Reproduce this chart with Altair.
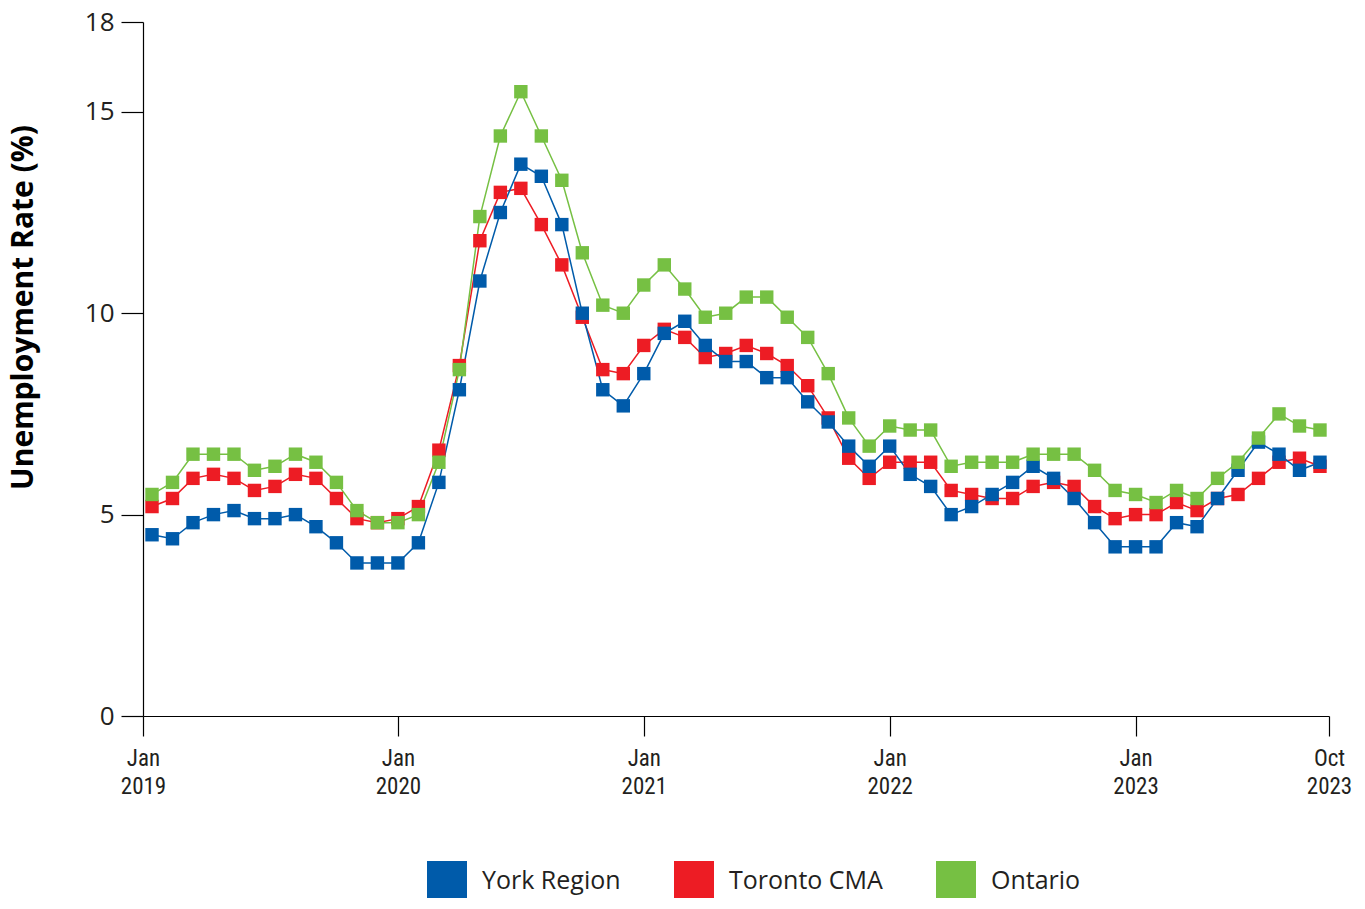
import altair as alt
import pandas as pd

# Months from Jan 2019 (index 0) to Oct 2023 (index 57)
month_index = list(range(58))

york = [4.5, 4.4, 4.8, 5.0, 5.1, 4.9, 4.9, 5.0, 4.7, 4.3,
        3.8, 3.8, 3.8, 4.3, 5.8, 8.1, 10.8, 12.5, 13.7, 13.4,
        12.2, 10.0, 8.1, 7.7, 8.5, 9.5, 9.8, 9.2, 8.8, 8.8,
        8.4, 8.4, 7.8, 7.3, 6.7, 6.2, 6.7, 6.0, 5.7, 5.0,
        5.2, 5.5, 5.8, 6.2, 5.9, 5.4, 4.8, 4.2, 4.2, 4.2,
        4.8, 4.7, 5.4, 6.1, 6.8, 6.5, 6.1, 6.3]

toronto = [5.2, 5.4, 5.9, 6.0, 5.9, 5.6, 5.7, 6.0, 5.9, 5.4,
           4.9, 4.8, 4.9, 5.2, 6.6, 8.7, 11.8, 13.0, 13.1, 12.2,
           11.2, 9.9, 8.6, 8.5, 9.2, 9.6, 9.4, 8.9, 9.0, 9.2,
           9.0, 8.7, 8.2, 7.4, 6.4, 5.9, 6.3, 6.3, 6.3, 5.6,
           5.5, 5.4, 5.4, 5.7, 5.8, 5.7, 5.2, 4.9, 5.0, 5.0,
           5.3, 5.1, 5.4, 5.5, 5.9, 6.3, 6.4, 6.2]

ontario = [5.5, 5.8, 6.5, 6.5, 6.5, 6.1, 6.2, 6.5, 6.3, 5.8,
           5.1, 4.8, 4.8, 5.0, 6.3, 8.6, 12.4, 14.4, 15.5, 14.4,
           13.3, 11.5, 10.2, 10.0, 10.7, 11.2, 10.6, 9.9, 10.0, 10.4,
           10.4, 9.9, 9.4, 8.5, 7.4, 6.7, 7.2, 7.1, 7.1, 6.2,
           6.3, 6.3, 6.3, 6.5, 6.5, 6.5, 6.1, 5.6, 5.5, 5.3,
           5.6, 5.4, 5.9, 6.3, 6.9, 7.5, 7.2, 7.1]

series_names = ["York Region", "Toronto CMA", "Ontario"]
series_colors = ["#005BAA", "#ED1C24", "#76C043"]

x_tick_values = [-0.44, 12, 24, 36, 48, 57.44]
x_tick_top = ["Jan", "Jan", "Jan", "Jan", "Jan", "Oct"]
x_tick_bottom = ["2019", "2020", "2021", "2022", "2023", "2023"]

y_tick_values = [0, 5, 10, 15, 17.23]
y_tick_labels = ["0", "5", "10", "15", "18"]

# Build table (Toronto drawn first, then York, then Ontario on top)
rows = []
for name, vals in [("Toronto CMA", toronto), ("York Region", york), ("Ontario", ontario)]:
    for m, v in zip(month_index, vals):
        rows.append({"month": m, "rate": v, "series": name})
df = pd.DataFrame(rows)


def build_expr(values, labels):
    expr = "''"
    for v, lab in reversed(list(zip(values, labels))):
        expr = f"abs(datum.value - ({v})) < 0.01 ? {lab} : ({expr})"
    return expr


x_label_expr = build_expr(
    x_tick_values, [f"['{t}', '{b}']" for t, b in zip(x_tick_top, x_tick_bottom)]
)
y_label_expr = build_expr(y_tick_values, [f"'{l}'" for l in y_tick_labels])

FONT = "Open Sans"
NARROW = "Liberation Sans Narrow, Roboto Condensed, Open Sans"
TXT = "#231f20"

x_enc = alt.X(
    "month:Q",
    scale=alt.Scale(domain=[-0.44, 57.44], nice=False, zero=False),
    axis=alt.Axis(
        values=x_tick_values,
        labelExpr=x_label_expr,
        title=None,
        grid=False,
        tickSize=20,
        labelPadding=11,
        labelFont=NARROW,
        labelFontSize=23,
        labelLineHeight=28,
        labelColor=TXT,
        labelFlush=False,
        labelOverlap=False,
        labelBound=False,
        domainColor="black",
        tickColor="black",
        domainWidth=1.2,
        tickWidth=1.2,
    ),
)

y_enc = alt.Y(
    "rate:Q",
    scale=alt.Scale(domain=[0, 17.23], nice=False, zero=True),
    axis=alt.Axis(
        values=y_tick_values,
        labelExpr=y_label_expr,
        title="Unemployment Rate (%)",
        titleFont=FONT,
        titleFontSize=30,
        titleFontWeight="bold",
        titleColor="black",
        titleAngle=270,
        titleX=-120,
        titleY=285,
        titleAlign="center",
        titleBaseline="middle",
        grid=False,
        tickSize=22,
        labelPadding=7,
        labelFont=FONT,
        labelFontSize=26,
        labelColor=TXT,
        labelOverlap=False,
        labelBound=False,
        domainColor="black",
        tickColor="black",
        domainWidth=1.2,
        tickWidth=1.2,
    ),
)

color_enc = alt.Color(
    "series:N",
    scale=alt.Scale(domain=series_names, range=series_colors),
    legend=alt.Legend(
        title=None,
        orient="none",
        legendX=284,
        legendY=839,
        direction="horizontal",
        symbolType="square",
        symbolSize=1600,
        symbolStrokeWidth=0,
        symbolOpacity=1,
        labelFont=FONT,
        labelFontSize=25,
        labelColor=TXT,
        labelOffset=15,
        labelLimit=400,
        columnPadding=53,
        padding=0,
    ),
)

lines = alt.Chart(df).mark_line(strokeWidth=1.5).encode(
    x=x_enc, y=y_enc, color=color_enc
)

points = alt.Chart(df).mark_point(shape="square", filled=True, size=180, opacity=1).encode(
    x=x_enc, y=y_enc, color=color_enc
)

chart = alt.layer(lines, points).properties(
    width=1186,
    height=694,
    background="white",
    autosize=alt.AutoSizeParams(type="none"),
    padding={"left": 135, "top": 14, "right": 28, "bottom": 182},
).configure_view(stroke=None)

chart.save("out.html", embed_options={"renderer": "svg", "actions": False})
